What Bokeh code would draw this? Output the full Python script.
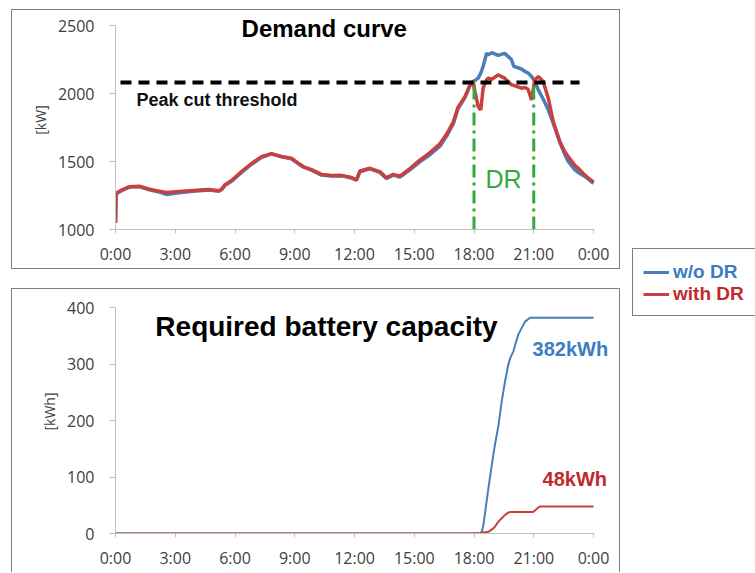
from bokeh.plotting import figure
from bokeh.models import Range1d, FixedTicker, Label, Legend, LegendItem, Spacer
from bokeh.layouts import row, column
from bokeh.embed import file_html
from bokeh.resources import INLINE

# ---------------- data ----------------
hours = [0, 0.03, 0.3, 0.7, 1.2, 1.7, 2.2, 2.55, 3.2, 3.9, 4.7, 5.2, 5.35, 5.5, 5.83,
         6.33, 6.83, 7.33, 7.83, 8.33, 8.83, 9.17, 9.42, 9.84, 10.34, 10.84, 11.35,
         11.85, 12.1, 12.27, 12.77, 13.27, 13.6, 13.95, 14.28, 14.78, 15.28, 15.79,
         16.29, 16.62, 16.96, 17.2, 17.54, 17.79, 17.96, 18.04, 18.21, 18.34, 18.46,
         18.63, 18.71, 18.9, 19.21, 19.54, 19.88, 20.0, 20.38, 20.56, 20.72, 20.89,
         21.05, 21.23, 21.47, 21.73, 21.98, 22.31, 22.57, 22.73, 23.07, 23.23, 23.57,
         23.74, 24.0]
demand_with_dr = [1050, 1265, 1290, 1315, 1318, 1296, 1282, 1272, 1280, 1287, 1294, 1285,
                  1300, 1330, 1360, 1426, 1485, 1535, 1558, 1537, 1524, 1488, 1463, 1440,
                  1405, 1397, 1398, 1382, 1365, 1430, 1450, 1426, 1380, 1405, 1392, 1448,
                  1510, 1565, 1630, 1700, 1790, 1900, 1975, 2060, 2088, 2020, 1904, 1880,
                  2040, 2100, 2113, 2105, 2137, 2113, 2064, 2060, 2039, 2045, 2030, 1953,
                  2100, 2125, 2088, 1966, 1794, 1647, 1570, 1537, 1470, 1451, 1400, 1377,
                  1350]
demand_wo_dr = [1050, 1262, 1285, 1312, 1315, 1292, 1275, 1258, 1270, 1282, 1290, 1282,
                1296, 1326, 1355, 1420, 1480, 1530, 1556, 1534, 1520, 1485, 1460, 1436,
                1400, 1393, 1395, 1378, 1362, 1425, 1446, 1420, 1376, 1400, 1386, 1438,
                1498, 1550, 1612, 1685, 1778, 1890, 1968, 2055, 2088, 2095, 2113, 2150,
                2199, 2296, 2285, 2300, 2280, 2295, 2250, 2200, 2180, 2162, 2150, 2125,
                2090, 2027, 1960, 1880, 1780, 1640, 1549, 1500, 1439, 1420, 1390, 1370,
                1340]

cap_hours = [0, 17.8, 18.3, 18.39, 18.47, 18.72, 18.97, 19.05, 19.22, 19.39, 19.56,
             19.72, 19.81, 19.97, 20.22, 20.56, 20.81, 20.97, 21.2, 21.31, 24]
cap_wo_dr = [0, 0, 0, 3, 15, 80, 140, 157, 190, 234, 270, 299, 310, 322, 352, 375,
             382, 382, 382, 382, 382]
cap_with_dr = [0, 0, 1, 2, 2, 3, 9, 12, 21, 27, 33, 37, 38, 38, 38, 38, 38, 38, 45,
               48, 48]

tick_hours = [0, 3, 6, 9, 12, 15, 18, 21, 24]
tick_labels = ["0:00", "3:00", "6:00", "9:00", "12:00", "15:00", "18:00", "21:00", "0:00"]
demand_ticks = [1000, 1500, 2000, 2500]
cap_ticks = [0, 100, 200, 300, 400]

threshold_kw = 2080
threshold_hours = [0.25, 23.3]
dr_hours = [18, 21]

series_names = ["w/o DR", "with DR"]
cap_labels = ["382kWh", "48kWh"]

# ---------------- style ----------------
BLUE = "#4a7ebb"
RED = "#c8413f"
BLUE_TXT = "#3a7dc4"
RED_TXT = "#c0282d"
GREEN = "#35a83d"
TICK_FONT = "Open Sans"
BOLD_FONT = "Liberation Sans"
BOX = "1.5px solid #7f7f7f"


def style_axes(p, yticks):
    p.xgrid.visible = False
    p.ygrid.visible = False
    p.outline_line_color = None
    p.xaxis.ticker = FixedTicker(ticks=tick_hours)
    p.xaxis.major_label_overrides = {float(h): s for h, s in zip(tick_hours, tick_labels)}
    p.yaxis.ticker = FixedTicker(ticks=yticks)
    p.xaxis.bounds = (tick_hours[0], tick_hours[-1])
    p.yaxis.bounds = (yticks[0], yticks[-1])
    for ax in (p.xaxis[0], p.yaxis[0]):
        ax.axis_line_color = "#bfbfbf"
        ax.axis_line_width = 1
        ax.major_tick_line_color = "#bfbfbf"
        ax.minor_tick_line_color = None
        ax.major_tick_in = 0
        ax.major_label_text_font = TICK_FONT
        ax.major_label_text_font_size = "16px"
        ax.major_label_text_color = "#404040"
        ax.axis_label_text_font = TICK_FONT
        ax.axis_label_text_font_size = "14px"
        ax.axis_label_text_font_style = "normal"
        ax.axis_label_text_color = "#404040"
    p.yaxis.major_tick_out = 6
    p.yaxis.major_label_standoff = 15
    p.yaxis.axis_label_standoff = 5
    p.xaxis.major_tick_out = 4


def label(p, **kw):
    p.add_layout(Label(text_baseline="middle", **kw))


# ---------------- top panel ----------------
# frame reaches the panel box; 24 h spans 478 px, 1000..2500 spans 204 px
P1_W, P1_H, P1_L, P1_B = 609, 260, 103, 41
x1_end = 24 * (P1_W - P1_L) / 478
y1_end = 1000 + 1500 * (P1_H - P1_B) / 204
p1 = figure(width=P1_W, height=P1_H, x_range=Range1d(0, x1_end),
            y_range=Range1d(1000, y1_end),
            output_backend="svg", toolbar_location=None,
            min_border_left=P1_L, min_border_right=0, min_border_top=0,
            min_border_bottom=P1_B, styles={"border": BOX})
style_axes(p1, demand_ticks)
p1.yaxis.axis_label = "[kW]"
p1.xaxis.major_label_standoff = 9

p1.line(hours, demand_wo_dr, line_color=BLUE, line_width=3.5)
p1.line(hours, demand_with_dr, line_color=RED, line_width=3.5)
p1.line(threshold_hours, [threshold_kw, threshold_kw], line_color="black", line_width=4,
        line_dash="11 7")
p1.segment(x0=dr_hours, y0=[1000, 1000], x1=dr_hours, y1=[threshold_kw, threshold_kw],
           line_color=GREEN, line_width=3, line_dash="13 5 3 5")

label(p1, x=6.33, y=2478, text="Demand curve", text_font=BOLD_FONT,
      text_font_size="24px", text_font_style="bold", text_color="black", text_align="left")
label(p1, x=1.05, y=1949, text="Peak cut threshold", text_font=BOLD_FONT,
      text_font_size="18px", text_font_style="bold", text_color="#111111", text_align="left")
label(p1, x=19.48, y=1375, text="DR", text_font=BOLD_FONT,
      text_font_size="25px", text_font_style="normal", text_color=GREEN, text_align="center")

# ---------------- bottom panel ----------------
# 24 h spans 479 px, 0..400 spans 226 px
P2_W, P2_H, P2_L, P2_B = 609, 284, 102, 40
x2_end = 24 * (P2_W - P2_L) / 479
y2_end = 400 * (P2_H - P2_B) / 226
p2 = figure(width=P2_W, height=P2_H, x_range=Range1d(0, x2_end), y_range=Range1d(0, y2_end),
            output_backend="svg", toolbar_location=None,
            min_border_left=P2_L, min_border_right=0, min_border_top=0,
            min_border_bottom=P2_B,
            styles={"border-top": BOX, "border-left": BOX, "border-right": BOX})
style_axes(p2, cap_ticks)
p2.yaxis.axis_label = "[kWh]"
p2.xaxis.major_label_standoff = 9

p2.line(cap_hours, cap_wo_dr, line_color=BLUE, line_width=2)
p2.line(cap_hours, cap_with_dr, line_color=RED, line_width=2)

label(p2, x=2.0, y=366, text="Required battery capacity", text_font=BOLD_FONT,
      text_font_size="28px", text_font_style="bold", text_color="black", text_align="left")
label(p2, x=20.94, y=327, text=cap_labels[0], text_font=BOLD_FONT,
      text_font_size="20px", text_font_style="bold", text_color=BLUE_TXT, text_align="left")
label(p2, x=21.44, y=97, text=cap_labels[1], text_font=BOLD_FONT,
      text_font_size="20px", text_font_style="bold", text_color=RED_TXT, text_align="left")

# ---------------- legend box ----------------
leg = figure(width=123, height=68, x_range=Range1d(0, 1), y_range=Range1d(0, 1),
             output_backend="svg", toolbar_location=None, x_axis_type=None, y_axis_type=None,
             min_border=0, styles={"border-top": BOX, "border-left": BOX, "border-bottom": BOX})
leg.xgrid.visible = False
leg.ygrid.visible = False
leg.outline_line_color = None
r_blue = leg.line([-10, -9], [-10, -10], line_color=BLUE, line_width=3)
r_red = leg.line([-10, -9], [-10, -10], line_color=RED, line_width=3)
for name, rend, col, ypos in ((series_names[0], r_blue, BLUE_TXT, 34),
                              (series_names[1], r_red, RED_TXT, 12)):
    lg = Legend(items=[LegendItem(label=name, renderers=[rend])], location=(10, ypos),
                padding=0, margin=0, spacing=0, border_line_color=None,
                background_fill_alpha=0, glyph_width=26, glyph_height=20,
                label_height=20, label_standoff=4, label_text_font=BOLD_FONT,
                label_text_font_size="19px", label_text_font_style="bold",
                label_text_color=col, label_text_baseline="middle")
    leg.add_layout(lg)

layout = row(Spacer(width=11),
             column(Spacer(height=9), p1, Spacer(height=19), p2),
             Spacer(width=12),
             column(Spacer(height=248), leg))

open("out.html", "w").write(file_html(layout, INLINE))
